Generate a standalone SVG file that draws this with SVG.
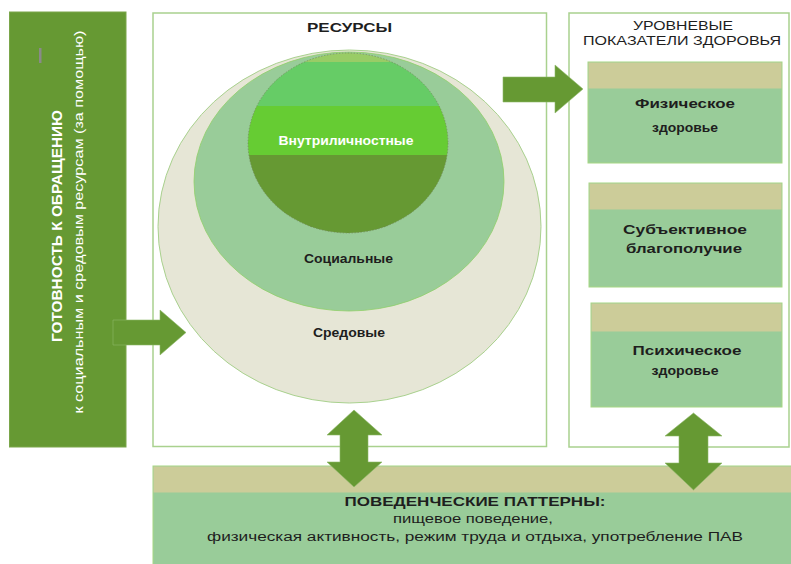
<svg xmlns="http://www.w3.org/2000/svg" width="791" height="564" viewBox="0 0 791 564">
<style>
.frame{fill:#ffffff;stroke:#a9d18e;stroke-width:1.5}
.card{fill:#99cc99;stroke:#a6d784;stroke-width:1}
.band{fill:#cccc99}
.arrow{fill:#669933;stroke:#8fb86a;stroke-width:0.6}
.t{font-family:"Liberation Sans",Arial,sans-serif;fill:#1e1e1e;text-anchor:middle}
.b{font-weight:bold}
.w{fill:#ffffff}
</style>
<defs>
<clipPath id="innerClip"><ellipse cx="348" cy="143" rx="100" ry="90"/></clipPath>
</defs>
<rect width="791" height="564" fill="#ffffff"/>

<g id="readiness">
<rect x="9.5" y="12" width="116.5" height="435" fill="#669933" stroke="#7aa64a" stroke-width="1"/>
<rect x="39" y="48" width="2.5" height="15" fill="#8a8a8a"/>
<text class="t b w" font-size="14" transform="translate(62,226) rotate(-90)" textLength="232" lengthAdjust="spacingAndGlyphs">ГОТОВНОСТЬ К ОБРАЩЕНИЮ</text>
<text class="t w" font-size="13" transform="translate(83,222) rotate(-90)" textLength="383" lengthAdjust="spacingAndGlyphs">к социальным и средовым ресурсам (за помощью)</text>
</g>

<g id="resources">
<rect class="frame" x="153" y="13" width="393.5" height="433.5"/>
<text class="t b" font-size="13" x="349.5" y="32" textLength="85" lengthAdjust="spacingAndGlyphs">РЕСУРСЫ</text>
</g>

<g id="environmental">
<ellipse cx="349.5" cy="226.5" rx="191.5" ry="176.5" fill="#e6e6d6" stroke="#a9d18e" stroke-width="1"/>
<text class="t b" font-size="12" x="349" y="337" textLength="72" lengthAdjust="spacingAndGlyphs">Средовые</text>
</g>

<g id="social">
<ellipse cx="349" cy="181.5" rx="155" ry="129.5" fill="#99cc99" stroke="#8fcf6a" stroke-width="0.8"/>
<text class="t b" font-size="12" x="348.5" y="263" textLength="89" lengthAdjust="spacingAndGlyphs">Социальные</text>
</g>

<g id="intrapersonal">
<g clip-path="url(#innerClip)">
<rect x="240" y="50" width="220" height="12" fill="#99cc66"/>
<rect x="240" y="62" width="220" height="44" fill="#66cc66"/>
<rect x="240" y="106" width="220" height="49" fill="#66cc33"/>
<rect x="240" y="155" width="220" height="80" fill="#669933"/>
</g>
<ellipse cx="348" cy="143" rx="100" ry="90" fill="none" stroke="#6f7f55" stroke-width="0.6" stroke-dasharray="1.5 1.5"/>
<text class="t b w" font-size="12" x="346" y="145" textLength="135" lengthAdjust="spacingAndGlyphs">Внутриличностные</text>
</g>

<g id="health">
<rect class="frame" x="569" y="13" width="220" height="434"/>
<text class="t" font-size="13" x="683" y="30" fill="#333" textLength="100" lengthAdjust="spacingAndGlyphs">УРОВНЕВЫЕ</text>
<text class="t" font-size="13" x="682" y="45" fill="#333" textLength="198" lengthAdjust="spacingAndGlyphs">ПОКАЗАТЕЛИ ЗДОРОВЬЯ</text>
</g>

<g id="physical">
<rect class="card" x="588" y="62" width="194" height="101"/>
<rect class="band" x="588.5" y="62.5" width="193" height="26"/>
<text class="t b" font-size="13" x="685" y="108" textLength="100" lengthAdjust="spacingAndGlyphs">Физическое</text>
<text class="t b" font-size="13" x="685" y="132" textLength="66" lengthAdjust="spacingAndGlyphs">здоровье</text>
</g>

<g id="wellbeing">
<rect class="card" x="589" y="183" width="193" height="104"/>
<rect class="band" x="589.5" y="183.5" width="192" height="26"/>
<text class="t b" font-size="13" x="685" y="234" textLength="124" lengthAdjust="spacingAndGlyphs">Субъективное</text>
<text class="t b" font-size="13" x="684" y="253" textLength="116" lengthAdjust="spacingAndGlyphs">благополучие</text>
</g>

<g id="mental">
<rect class="card" x="591" y="303" width="191" height="104"/>
<rect class="band" x="591.5" y="303.5" width="190" height="28"/>
<text class="t b" font-size="13" x="687" y="355" textLength="109" lengthAdjust="spacingAndGlyphs">Психическое</text>
<text class="t b" font-size="13" x="685" y="375" textLength="67" lengthAdjust="spacingAndGlyphs">здоровье</text>
</g>

<g id="patterns">
<rect x="153" y="466" width="640" height="100" fill="#99cc99" stroke="#a6d784" stroke-width="1"/>
<rect class="band" x="153.5" y="466.5" width="640" height="26"/>
<text class="t b" font-size="13" x="475" y="506" textLength="261" lengthAdjust="spacingAndGlyphs">ПОВЕДЕНЧЕСКИЕ ПАТТЕРНЫ:</text>
<text class="t" font-size="12" x="473" y="523" textLength="160" lengthAdjust="spacingAndGlyphs">пищевое поведение,</text>
<text class="t" font-size="12" x="475" y="541" textLength="536" lengthAdjust="spacingAndGlyphs">физическая активность, режим труда и отдыха, употребление ПАВ</text>
</g>

<g id="connectors">
<path class="arrow" d="M113,320 H160 V310 L186,332.5 L160,355 V345 H113 Z" stroke="#cfe0c0" stroke-width="1.2"/>
<path class="arrow" d="M503,77 H555 V65 L583,89 L555,113 V102 H503 Z"/>
<path class="arrow" d="M354,410 L382,435 H368 V462 H382 L354,487 L327,462 H340 V435 H327 Z"/>
<path class="arrow" d="M693.5,413 L722,436 H708 V463 H722 L693.5,490 L665,463 H679 V436 H665 Z"/>
</g>
</svg>
